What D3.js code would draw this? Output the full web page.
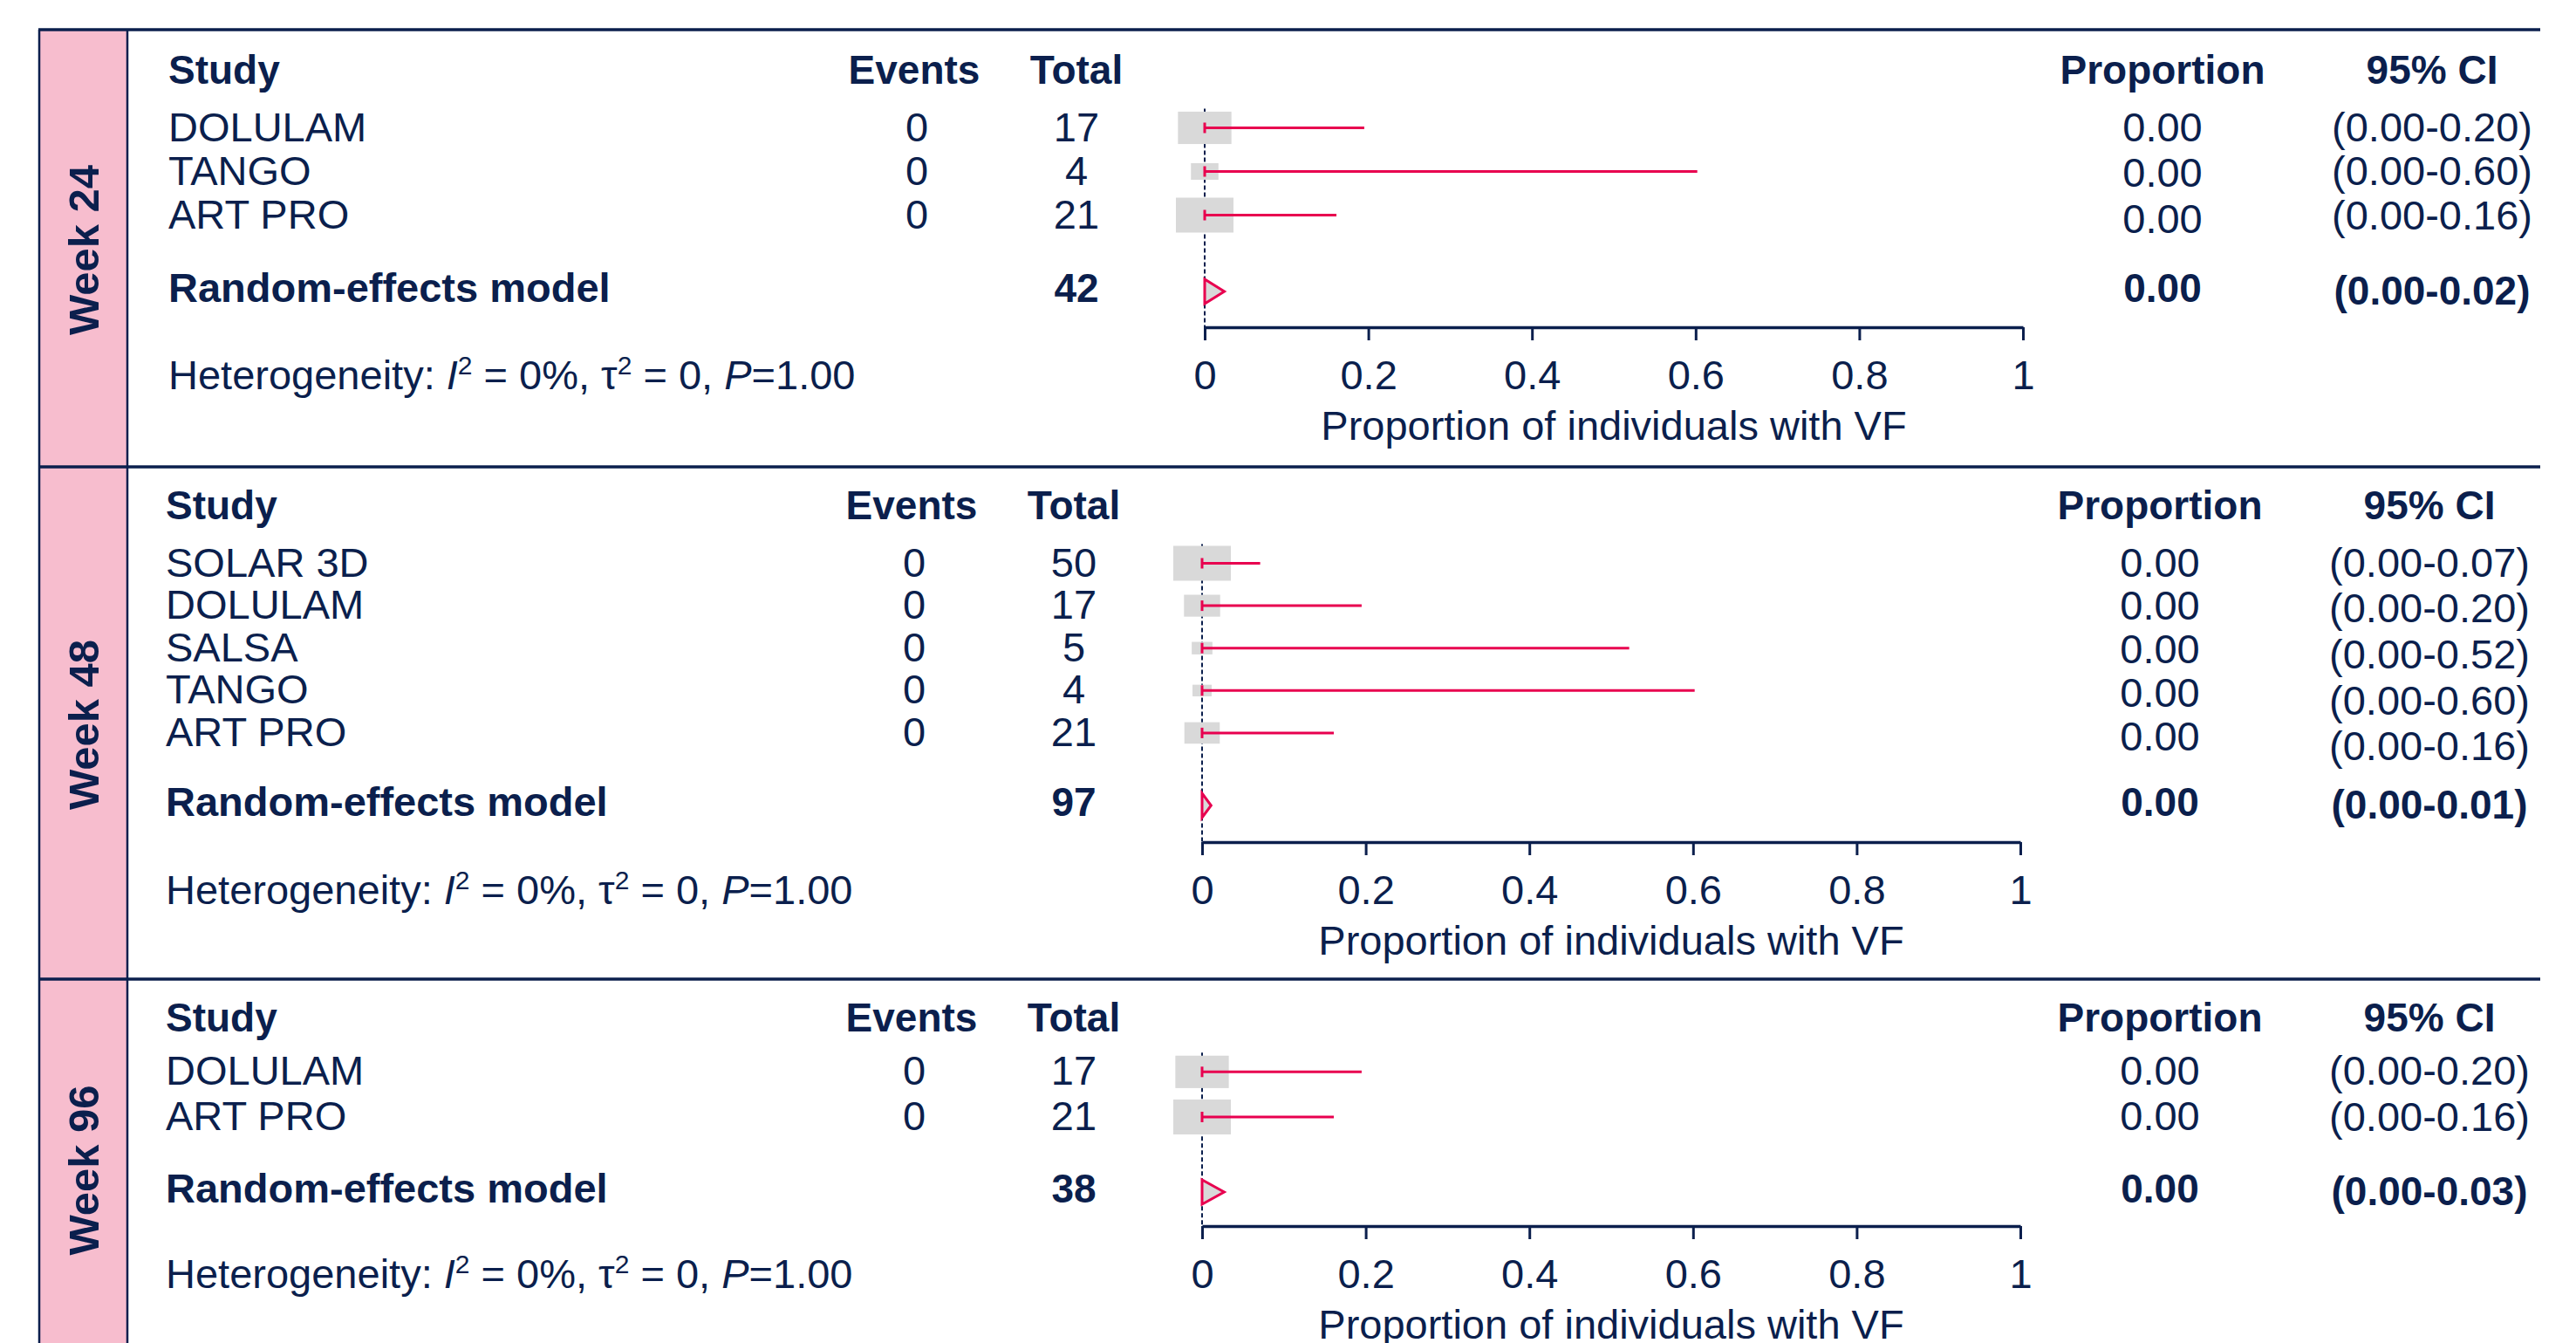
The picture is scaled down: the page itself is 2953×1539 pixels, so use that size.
<!DOCTYPE html>
<html>
<head>
<meta charset="utf-8">
<script src="https://cdn.jsdelivr.net/npm/d3@7"></script>
<style>
  body { margin: 0; background: #fff; overflow: hidden; }
  text { font-family: "Liberation Sans", Arial, Helvetica, sans-serif; fill: #0b1f4d; }
</style>
</head>
<body>
<script>
// data
var panelNames = ["Week 24", "Week 48", "Week 96"];
var studies = [["DOLULAM", "TANGO", "ART PRO"],
               ["SOLAR 3D", "DOLULAM", "SALSA", "TANGO", "ART PRO"],
               ["DOLULAM", "ART PRO"]];
var events = [[0, 0, 0], [0, 0, 0, 0, 0], [0, 0]];
var totals = [[17, 4, 21], [50, 17, 5, 4, 21], [17, 21]];
var props = [[0, 0, 0], [0, 0, 0, 0, 0], [0, 0]];
var lower = [[0, 0, 0], [0, 0, 0, 0, 0], [0, 0]];
var upper = [[0.195, 0.602, 0.161], [0.071, 0.195, 0.522, 0.602, 0.161], [0.195, 0.161]];
var weights = [[41.3, 10.9, 47.9], [49.7, 19.6, 6.4, 5.5, 18.8], [46.3, 53.7]];
var pooledTotal = [42, 97, 38];
var pooledProp = [0, 0, 0];
var pooledLower = [0, 0, 0];
var pooledUpper = [0.024, 0.011, 0.027];
var hetI2 = [0, 0, 0];
var hetTau2 = [0, 0, 0];
var hetP = [1, 1, 1];
var xTicks = [0, 0.2, 0.4, 0.6, 0.8, 1];
var headers = ["Study", "Events", "Total", "Proportion", "95% CI"];
var axisTitle = "Proportion of individuals with VF";
var pooledLabel = "Random-effects model";

// layout (pixels)
var W = 2953, H = 1539;
var navy = "#0b1f4d", red = "#e8004f", grey = "#d9d9d9", pink = "#f7bdce";
var layout = [
  {top: 34,   bottom: 535,  header: 96,   row0: 146.5,  step: 50,   stepProp: 52.7, stepCI: 50.8, pooled: 334,  axis: 375,  dx: 3},
  {top: 535,  bottom: 1122, header: 595,  row0: 645.5,  step: 48.6, stepProp: 49.9, stepCI: 52.7, pooled: 923,  axis: 965,  dx: 0},
  {top: 1122, bottom: 1556, header: 1182, row0: 1228.3, step: 51.7, stepProp: 51.7, stepCI: 52.5, pooled: 1366, axis: 1405, dx: 0}
];
var col = {study: 190, eventsHead: 1045, events: 1048, total: 1231, prop: 2476, ci: 2785, x0: 1378, x1: 2316};
var fs = 47, fsBold = 46;
var f2 = d3.format(".2f");

var svg = d3.select("body").append("svg")
    .attr("width", W).attr("height", H);

svg.append("rect").attr("width", W).attr("height", H).attr("fill", "#fff");

// pink side band
svg.append("rect")
    .attr("x", 45).attr("y", layout[0].top)
    .attr("width", 101).attr("height", H - layout[0].top + 30)
    .attr("fill", pink);
[45, 146].forEach(function(xx) {
  svg.append("line")
      .attr("x1", xx).attr("x2", xx)
      .attr("y1", layout[0].top).attr("y2", H + 10)
      .attr("stroke", navy).attr("stroke-width", 2.5);
});

panelNames.forEach(function(name, p) {
  var L = layout[p];
  var g = svg.append("g");
  var dx = L.dx;

  // separator line on top of the panel
  g.append("line")
      .attr("x1", 44).attr("x2", 2912)
      .attr("y1", L.top).attr("y2", L.top)
      .attr("stroke", navy).attr("stroke-width", 3.5);

  // rotated week label
  g.append("text")
      .attr("transform", "translate(113," + ((L.top + L.bottom) / 2 + 2) + ") rotate(-90)")
      .attr("text-anchor", "middle")
      .attr("font-weight", "bold")
      .attr("font-size", 49)
      .text(name);

  var x = d3.scaleLinear().domain([0, 1]).range([col.x0 + dx, col.x1 + dx]);
  var yRow = function(i) { return L.row0 + i * L.step; };
  var yProp = function(i) { return L.row0 + i * L.stepProp; };
  var yCI = function(i) { return L.row0 + i * L.stepCI; };
  var boxH = d3.scaleSqrt().domain([0, d3.max(weights[p])]).range([0, 40]);

  // column headers
  var hx = [col.study + dx, col.eventsHead + dx, col.total + dx, col.prop + dx, col.ci + dx];
  var ha = ["start", "middle", "middle", "middle", "middle"];
  headers.forEach(function(h, k) {
    g.append("text")
        .attr("x", hx[k]).attr("y", L.header)
        .attr("text-anchor", ha[k])
        .attr("font-weight", "bold").attr("font-size", fsBold)
        .text(h);
  });

  // dashed reference line at 0
  g.append("line")
      .attr("x1", x(0)).attr("x2", x(0))
      .attr("y1", L.row0 - 22).attr("y2", L.axis)
      .attr("stroke", navy).attr("stroke-width", 2)
      .attr("stroke-dasharray", "5,3");

  // study rows
  var rows = g.selectAll(".row")
    .data(studies[p])
    .enter().append("g")
      .attr("class", "row");

  rows.append("rect")
      .attr("x", function(d, i) { return x(props[p][i]) - boxH(weights[p][i]) * 0.825; })
      .attr("y", function(d, i) { return yRow(i) - boxH(weights[p][i]) / 2; })
      .attr("width", function(d, i) { return boxH(weights[p][i]) * 1.65; })
      .attr("height", function(d, i) { return boxH(weights[p][i]); })
      .attr("fill", grey);

  rows.append("line")
      .attr("x1", function(d, i) { return x(lower[p][i]); })
      .attr("x2", function(d, i) { return x(upper[p][i]); })
      .attr("y1", function(d, i) { return yRow(i); })
      .attr("y2", function(d, i) { return yRow(i); })
      .attr("stroke", red).attr("stroke-width", 3);

  rows.append("line")
      .attr("x1", function(d, i) { return x(lower[p][i]); })
      .attr("x2", function(d, i) { return x(lower[p][i]); })
      .attr("y1", function(d, i) { return yRow(i) - 6; })
      .attr("y2", function(d, i) { return yRow(i) + 6; })
      .attr("stroke", red).attr("stroke-width", 3);

  rows.append("text")
      .attr("x", col.study + dx)
      .attr("y", function(d, i) { return yRow(i) + 15; })
      .attr("font-size", fs)
      .text(function(d) { return d; });

  rows.append("text")
      .attr("x", col.events + dx)
      .attr("y", function(d, i) { return yRow(i) + 15; })
      .attr("text-anchor", "middle").attr("font-size", fs)
      .text(function(d, i) { return events[p][i]; });

  rows.append("text")
      .attr("x", col.total + dx)
      .attr("y", function(d, i) { return yRow(i) + 15; })
      .attr("text-anchor", "middle").attr("font-size", fs)
      .text(function(d, i) { return totals[p][i]; });

  rows.append("text")
      .attr("x", col.prop + dx)
      .attr("y", function(d, i) { return yProp(i) + 15; })
      .attr("text-anchor", "middle").attr("font-size", fs)
      .text(function(d, i) { return f2(props[p][i]); });

  rows.append("text")
      .attr("x", col.ci + dx)
      .attr("y", function(d, i) { return yCI(i) + 15; })
      .attr("text-anchor", "middle").attr("font-size", fs)
      .text(function(d, i) { return "(" + f2(lower[p][i]) + "-" + f2(upper[p][i]) + ")"; });

  // pooled estimate
  var yc = L.pooled;
  g.append("path")
      .attr("d", "M" + x(pooledLower[p]) + "," + yc +
                 "L" + x(pooledProp[p]) + "," + (yc - 14) +
                 "L" + x(pooledUpper[p]) + "," + yc +
                 "L" + x(pooledProp[p]) + "," + (yc + 14) + "Z")
      .attr("fill", grey).attr("stroke", red).attr("stroke-width", 3);

  var pooledTexts = [
    {x: col.study + dx, a: "start", t: pooledLabel},
    {x: col.total + dx, a: "middle", t: pooledTotal[p]},
    {x: col.prop + dx, a: "middle", t: f2(pooledProp[p])},
    {x: col.ci + dx, a: "middle", t: "(" + f2(pooledLower[p]) + "-" + f2(pooledUpper[p]) + ")"}
  ];
  pooledTexts.forEach(function(o, k) {
    g.append("text")
        .attr("x", o.x).attr("y", yc + (k === 3 ? 15 : 12))
        .attr("text-anchor", o.a)
        .attr("font-weight", "bold").attr("font-size", k === 0 ? 47 : fsBold)
        .text(o.t);
  });

  // axis
  var ax = g.append("g")
      .attr("transform", "translate(0," + L.axis + ")")
      .call(d3.axisBottom(x).tickValues(xTicks).tickSize(15).tickSizeOuter(0)
              .tickFormat(d3.format("~g")));
  ax.attr("font-size", fs).attr("font-family", null);
  ax.select(".domain").attr("stroke", navy).attr("stroke-width", 3.5);
  ax.selectAll(".tick line").attr("stroke", navy).attr("stroke-width", 3);
  ax.selectAll(".tick text").attr("y", 71).attr("dy", null);

  g.append("text")
      .attr("x", x(0.5)).attr("y", L.axis + 129)
      .attr("text-anchor", "middle").attr("font-size", fs)
      .text(axisTitle);

  // heterogeneity line
  var het = g.append("text")
      .attr("x", col.study + dx).attr("y", L.axis + 71)
      .attr("font-size", fs);
  het.append("tspan").text("Heterogeneity: ");
  het.append("tspan").attr("font-style", "italic").text("I");
  het.append("tspan").attr("font-size", 30).attr("dy", -17).text("2");
  het.append("tspan").attr("dy", 17).text(" = " + hetI2[p] + "%, \u03c4");
  het.append("tspan").attr("font-size", 30).attr("dy", -17).text("2");
  het.append("tspan").attr("dy", 17).text(" = " + hetTau2[p] + ", ");
  het.append("tspan").attr("font-style", "italic").text("P");
  het.append("tspan").text("=" + f2(hetP[p]));
});
</script>
</body>
</html>
